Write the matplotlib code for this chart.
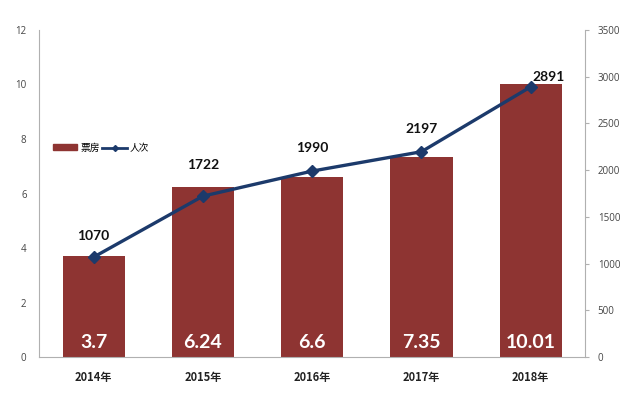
import matplotlib
matplotlib.use("Agg")
import matplotlib.pyplot as plt
from matplotlib.lines import Line2D
from matplotlib.patches import Patch

years = ["2014年", "2015年", "2016年", "2017年", "2018年"]
box_office = [3.7, 6.24, 6.6, 7.35, 10.01]
attendance = [1070, 1722, 1990, 2197, 2891]
left_ticks = [0, 2, 4, 6, 8, 10, 12]
right_ticks = [0, 500, 1000, 1500, 2000, 2500, 3000, 3500]

plt.rcParams['font.family'] = ['Lato', 'Noto Sans CJK SC', 'DejaVu Sans']
bar_color = '#8E3432'
line_color = '#1C3A6B'
grey = '#B0B0B0'

fig = plt.figure(figsize=(6.3, 3.99), dpi=100)
ax = fig.add_axes([0.062, 0.105, 0.867, 0.82])
x = list(range(len(years)))
ax.bar(x, box_office, width=0.57, color=bar_color, zorder=2)
ax.set_xlim(-0.5, 4.5)
ax.set_ylim(0, 12)
ax.set_yticks(left_ticks)
ax.set_yticklabels([str(t) for t in left_ticks], fontsize=7, color='#444444',
                   family=['Open Sans', 'DejaVu Sans'])
ax.tick_params(axis='y', length=0, pad=9)
ax.set_xticks(x)
ax.set_xticklabels(years, fontsize=8, fontweight='bold',
                   family=['Noto Sans CJK SC', 'DejaVu Sans'], color='#222222')
ax.tick_params(axis='x', length=0, pad=10)
for s in ['top', 'right']:
    ax.spines[s].set_visible(False)
for s in ['left', 'bottom']:
    ax.spines[s].set_color(grey)

for xi, v in zip(x, box_office):
    ax.text(xi, 0.52, f"{v:g}", ha='center', va='center', color='white',
            fontsize=14, fontweight='bold')

ax2 = ax.twinx()
ax2.set_ylim(0, 3500)
ax2.set_yticks(right_ticks)
ax2.set_yticklabels([str(t) for t in right_ticks], fontsize=7, color='#444444',
                    family=['Open Sans', 'DejaVu Sans'])
ax2.tick_params(axis='y', length=3, color=grey, pad=6)
for s in ['top', 'left', 'bottom']:
    ax2.spines[s].set_visible(False)
ax2.spines['right'].set_color(grey)
ax2.plot(x, attendance, color=line_color, lw=2.4, marker='D', ms=6, zorder=3)
offsets = [(0, 11), (0, 18), (0, 12), (0, 12), (13, 3)]
for xi, v, off in zip(x, attendance, offsets):
    ax2.annotate(str(v), (xi, v), xytext=off, textcoords='offset points',
                 ha='center', va='bottom', fontsize=10, fontweight='bold', color='#111111')

handles = [Patch(color=bar_color), Line2D([0], [0], color=line_color, lw=2, marker='D', ms=3)]
fig.legend(handles, ['票房', '人次'], loc='center left', bbox_to_anchor=(0.07, 0.63),
           ncol=2, frameon=False, handlelength=2.5, handleheight=0.5,
           columnspacing=0.3, handletextpad=0.3,
           prop={'family': ['Noto Sans CJK SC', 'DejaVu Sans'], 'size': 7})
fig.savefig('out.png', dpi=100)
